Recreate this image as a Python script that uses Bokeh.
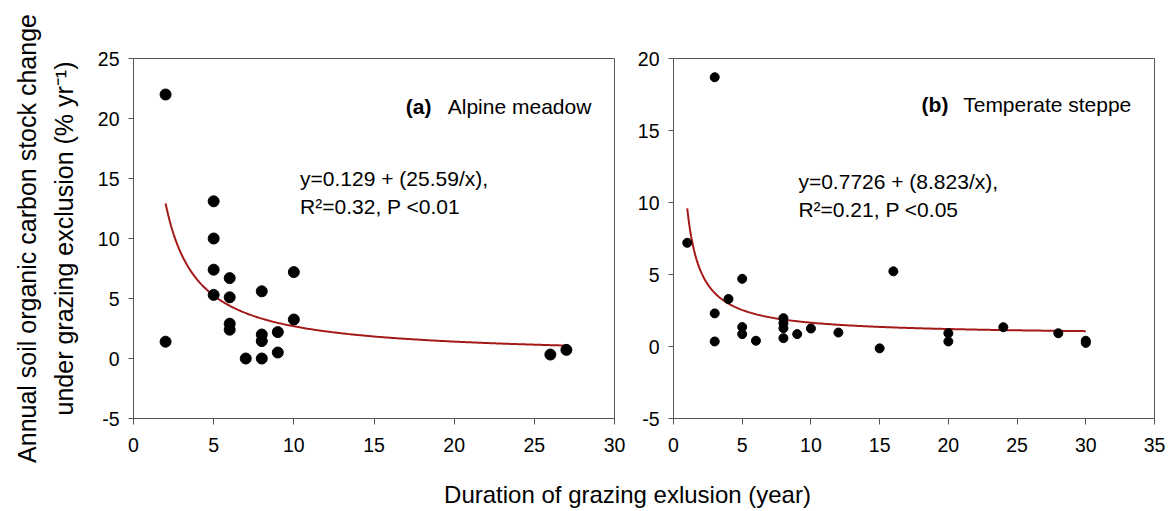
import numpy as np
from bokeh.plotting import figure
from bokeh.layouts import row, column
from bokeh.models import Label, FixedTicker, Range1d
from bokeh.embed import file_html
from bokeh.resources import INLINE

# ---- data: (a) Alpine meadow ----
alpine_years = [2, 2, 5, 5, 5, 5, 6, 6, 6, 6, 7, 8, 8, 8, 8, 9, 9, 10, 10, 26, 27]
alpine_change = [22.0, 1.4, 13.1, 10.0, 7.4, 5.3, 6.7, 5.1, 2.9, 2.4, 0.0, 5.6, 2.0, 1.45, 0.0, 2.2, 0.5, 7.2, 3.25, 0.33, 0.72]
alpine_a, alpine_b = 0.129, 25.59
alpine_fit_range = (2, 27)

# ---- data: (b) Temperate steppe ----
steppe_years = [1, 3, 3, 3, 4, 5, 5, 5, 6, 8, 8, 8, 8, 9, 10, 12, 15, 16, 20, 20, 24, 28, 30, 30]
steppe_change = [7.2, 18.7, 2.3, 0.35, 3.3, 4.7, 1.35, 0.86, 0.4, 1.97, 1.62, 1.27, 0.58, 0.86, 1.25, 0.97, -0.13, 5.22, 0.92, 0.35, 1.34, 0.92, 0.4, 0.25]
steppe_a, steppe_b = 0.7726, 8.823
steppe_fit_range = (1, 30)

FONT = "Liberation Sans"
AX = "#555555"
RED = "#A51818"


def style(p, xticks, yticks):
    p.grid.visible = False
    p.outline_line_color = AX
    p.outline_line_width = 1
    p.xaxis.ticker = FixedTicker(ticks=xticks)
    p.yaxis.ticker = FixedTicker(ticks=yticks)
    for ax in (p.xaxis, p.yaxis):
        ax.axis_line_color = AX
        ax.major_tick_line_color = AX
        ax.major_tick_in = 0
        ax.minor_tick_in = 0
        ax.minor_tick_out = 0
        ax.major_label_text_font = FONT
        ax.major_label_text_font_size = "19.5px"
        ax.major_label_text_color = "black"
    p.yaxis.major_label_overrides = {-5: "-5"}
    p.xaxis.major_tick_out = 6
    p.yaxis.major_tick_out = 5
    p.xaxis.major_label_standoff = 13
    p.yaxis.major_label_standoff = 9
    p.background_fill_color = "white"
    p.border_fill_color = "white"


def panel(years, change, a, b, frange, xr, yr, xticks, yticks, borders, dot):
    left, right, top, bottom = borders
    p = figure(frame_width=481, frame_height=360,
               min_border_left=left, min_border_right=right,
               min_border_top=top, min_border_bottom=bottom,
               x_range=Range1d(*xr), y_range=Range1d(*yr),
               output_backend="svg", toolbar_location=None)
    style(p, xticks, yticks)
    xs = np.linspace(frange[0], frange[1], 300)
    p.line(xs, a + b / xs, line_color=RED, line_width=2)
    p.scatter(years, change, size=dot, fill_color="black", line_color="black")
    return p


f1 = panel(alpine_years, alpine_change, alpine_a, alpine_b, alpine_fit_range,
           (0, 30), (-5, 25), list(range(0, 31, 5)), list(range(-5, 26, 5)),
           (133, 20, 58, 60), 11)
f2 = panel(steppe_years, steppe_change, steppe_a, steppe_b, steppe_fit_range,
           (0, 35), (-5, 20), list(range(0, 36, 5)), list(range(-5, 21, 5)),
           (38, 12, 58, 60), 9)

f1.yaxis.axis_label = "Annual soil organic carbon stock change\nunder grazing exclusion (% yr\u207b\u00b9)"
f1.yaxis.axis_label_text_font = FONT
f1.yaxis.axis_label_text_font_size = "25px"
f1.yaxis.axis_label_text_font_style = "normal"
f1.yaxis.axis_label_text_color = "black"
f1.yaxis.axis_label_standoff = 17
f1.yaxis.axis_label_text_line_height = 1.3


def lab(p, x, y, text, bold=False, size="21px"):
    p.add_layout(Label(x=x, y=y, text=text, text_font=FONT, text_font_size=size,
                       text_font_style="bold" if bold else "normal",
                       text_color="black", text_baseline="alphabetic"))


lab(f1, 16.98, 20.97, "(a)", bold=True)
lab(f1, 19.6, 20.97, "Alpine meadow")
lab(f1, 10.39, 14.98, "y=0.129 + (25.59/x),")
lab(f1, 10.39, 12.64, "R\u00b2=0.32, P <0.01")

lab(f2, 18.05, 16.82, "(b)", bold=True)
lab(f2, 21.08, 16.82, "Temperate steppe")
lab(f2, 9.09, 11.46, "y=0.7726 + (8.823/x),")
lab(f2, 9.09, 9.51, "R\u00b2=0.21, P <0.05")

# x-axis title strip spanning both panels
f3 = figure(width=1165, height=33, x_range=Range1d(0, 1165), y_range=Range1d(0, 33),
            min_border=0, x_axis_location=None, y_axis_location=None,
            output_backend="svg", toolbar_location=None)
f3.grid.visible = False
f3.outline_line_color = None
f3.add_layout(Label(x=627, y=17, text="Duration of grazing exlusion (year)",
                    text_font=FONT, text_font_size="24px", text_align="center",
                    text_baseline="middle", text_color="black"))

layout = column(row(f1, f2), f3)
open("out.html", "w").write(file_html(layout, INLINE))
